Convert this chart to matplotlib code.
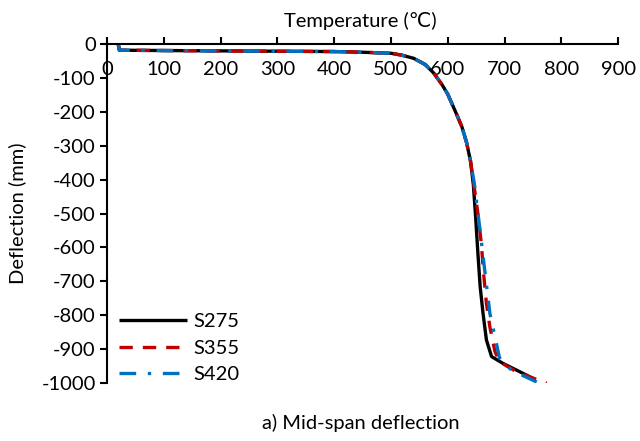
import matplotlib
matplotlib.use("Agg")
import matplotlib.pyplot as plt

plt.rcParams['font.family'] = ['Lato', 'DejaVu Sans']

# Data (temperature in C, deflection in mm)
t_s275 = [20, 22, 100, 200, 300, 400, 450, 500, 520, 540, 560, 575, 590, 600, 615, 625, 633, 640, 645, 649, 653, 657, 662, 668, 677, 697, 727, 753]
d_s275 = [0, -18, -19, -20, -21, -22, -24, -27, -33, -42, -60, -85, -120, -148, -205, -245, -290, -345, -415, -510, -617, -716, -794, -873, -922, -942, -967, -989]

t_s355 = [20, 22, 100, 200, 300, 400, 450, 500, 520, 540, 560, 575, 590, 600, 615, 625, 633, 640, 646, 653, 659, 663, 668, 674, 683, 691, 721, 774]
d_s355 = [0, -18, -19, -20, -21, -22, -24, -27, -33, -42, -60, -85, -120, -148, -205, -245, -290, -345, -415, -500, -588, -676, -765, -834, -907, -937, -967, -1001]

t_s420 = [20, 22, 100, 200, 300, 400, 450, 500, 520, 540, 560, 575, 590, 600, 615, 625, 633, 640, 647, 656, 665, 674, 683, 691, 712, 759]
d_s420 = [0, -18, -19, -20, -21, -22, -24, -27, -33, -42, -60, -85, -120, -148, -205, -245, -290, -345, -415, -539, -667, -794, -863, -926, -962, -999]

x_ticks = [0, 100, 200, 300, 400, 500, 600, 700, 800, 900]
y_ticks = [0, -100, -200, -300, -400, -500, -600, -700, -800, -900, -1000]

FS = 14.5

fig = plt.figure(figsize=(6.4, 4.41), dpi=100)
ax = fig.add_axes([0.167, 0.1315, 0.799, 0.7685])

ax.plot(t_s275, d_s275, color='black', lw=2.4, label='S275', solid_capstyle='butt')
ax.plot(t_s355, d_s355, color='#C00000', lw=2.4, dashes=(4, 3), label='S355')
ax.plot(t_s420, d_s420, color='#0070C0', lw=2.4, dashes=(5, 3.5, 1, 3.5), label='S420')

ax.set_xlim(0, 900)
ax.set_ylim(-1000, 0)
ax.set_xticks(x_ticks)
ax.set_yticks(y_ticks)
ax.set_yticklabels([str(v) for v in y_ticks])

ax.spines['bottom'].set_position(('data', 0))
ax.spines['top'].set_visible(False)
ax.spines['right'].set_visible(False)
for s in ('bottom', 'left'):
    ax.spines[s].set_linewidth(1.5)

ax.tick_params(axis='x', direction='in', length=5, width=1.5, pad=12, labelsize=FS)
ax.tick_params(axis='y', direction='out', length=5, width=1.5, pad=3, labelsize=FS)

fig.text(0.563, 0.952, 'Temperature (\u2103)', ha='center', va='center', fontsize=FS,
         family=['Lato', 'DejaVu Sans'])
ax.set_ylabel('Deflection (mm)', fontsize=FS, labelpad=11)
fig.text(0.563, 0.04, 'a) Mid-span deflection', ha='center', va='center', fontsize=FS)

ax.legend(loc='lower left', bbox_to_anchor=(0.0, -0.035), frameon=False, fontsize=FS,
          handlelength=3.4, handletextpad=0.3, labelspacing=0.45, borderaxespad=0.2)

fig.savefig('out.png', dpi=100)
